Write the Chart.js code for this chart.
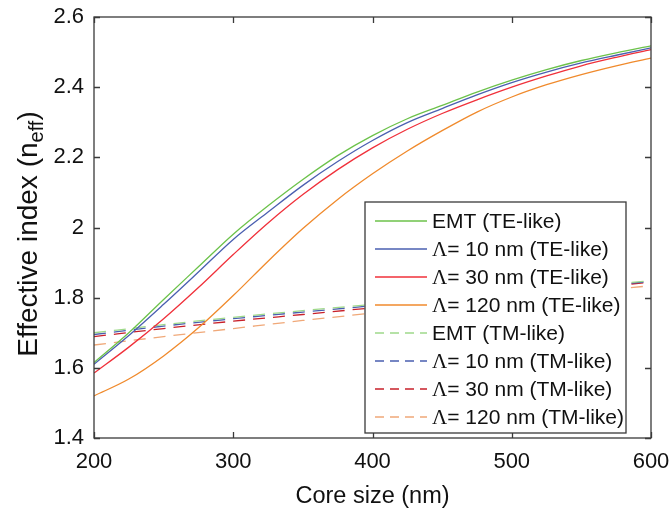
<!DOCTYPE html>
<html>
<head>
<meta charset="utf-8">
<script src="https://cdn.jsdelivr.net/npm/chart.js@4.4.1/dist/chart.umd.min.js"></script>
<style>
  html, body { margin: 0; padding: 0; background: #fff; }
  canvas { display: block; }
</style>
</head>
<body>
<canvas id="chart" width="669" height="514"></canvas>
<script>
// Core size (nm) sample points
const coreTE = [200, 225, 250, 275, 300, 325, 350, 375, 400, 425, 450, 475, 500, 525, 550, 575, 600];
const coreTM = [200, 250, 300, 350, 400, 450, 500, 550, 600];

// TE-like effective index
const emtTE   = [1.615, 1.700, 1.795, 1.888, 1.981, 2.062, 2.137, 2.205, 2.262, 2.310, 2.348, 2.386, 2.420, 2.450, 2.476, 2.498, 2.518];
const l10TE   = [1.610, 1.692, 1.781, 1.873, 1.966, 2.044, 2.120, 2.188, 2.248, 2.299, 2.339, 2.378, 2.413, 2.443, 2.469, 2.491, 2.512];
const l30TE   = [1.585, 1.659, 1.740, 1.829, 1.923, 2.013, 2.094, 2.165, 2.227, 2.280, 2.325, 2.364, 2.400, 2.432, 2.461, 2.485, 2.507];
const l120TE  = [1.520, 1.568, 1.634, 1.714, 1.806, 1.904, 1.997, 2.080, 2.153, 2.218, 2.276, 2.329, 2.372, 2.407, 2.436, 2.461, 2.483];

// TM-like effective index
const emtTM   = [1.700, 1.723, 1.744, 1.763, 1.781, 1.798, 1.815, 1.832, 1.848];
const l10TM   = [1.695, 1.719, 1.740, 1.759, 1.777, 1.795, 1.812, 1.829, 1.846];
const l30TM   = [1.689, 1.712, 1.733, 1.752, 1.771, 1.789, 1.807, 1.826, 1.844];
const l120TM  = [1.665, 1.689, 1.712, 1.735, 1.756, 1.776, 1.796, 1.815, 1.834];

const labels = [
    'EMT (TE-like)', 'Λ= 10 nm (TE-like)', 'Λ= 30 nm (TE-like)', 'Λ= 120 nm (TE-like)',
    'EMT (TM-like)', 'Λ= 10 nm (TM-like)', 'Λ= 30 nm (TM-like)', 'Λ= 120 nm (TM-like)'
];

const FONT = '"Liberation Sans", Arial, sans-serif';
const AXIS = '#3a3a3a';

const toXY = (xs, ys) => xs.map((x, i) => ({ x: x, y: ys[i] }));

function line(label, xs, ys, color, dashed) {
    return {
        label: label,
        data: toXY(xs, ys),
        borderColor: color,
        borderWidth: 1.3,
        borderDash: dashed ? [12, 8] : [],
        pointRadius: 0,
        fill: false,
        cubicInterpolationMode: 'monotone'
    };
}

// no extra room for overflowing tick labels
function fixScale(s, size) {
    if (s.isHorizontal()) s.height = size; else s.width = size;
    s.paddingLeft = s.paddingRight = s.paddingTop = s.paddingBottom = 0;
}

// frame, inward ticks, titles and the legend box
const framePlugin = {
    id: 'frame',
    afterDatasetsDraw(chart) {
        const { ctx, chartArea: a, scales } = chart;
        const xs = scales.x, ys = scales.y;
        const tl = 6;
        ctx.save();
        ctx.strokeStyle = AXIS;
        ctx.lineWidth = 1.3;
        ctx.setLineDash([]);
        ctx.strokeRect(a.left, a.top, a.right - a.left, a.bottom - a.top);

        ctx.beginPath();
        xs.ticks.forEach(t => {
            const px = Math.round(xs.getPixelForValue(t.value)) + 0.5;
            ctx.moveTo(px, a.bottom); ctx.lineTo(px, a.bottom - tl);
            ctx.moveTo(px, a.top); ctx.lineTo(px, a.top + tl);
        });
        ys.ticks.forEach(t => {
            const py = Math.round(ys.getPixelForValue(t.value)) + 0.5;
            ctx.moveTo(a.left, py); ctx.lineTo(a.left + tl, py);
            ctx.moveTo(a.right, py); ctx.lineTo(a.right - tl, py);
        });
        ctx.stroke();

        // x title
        ctx.fillStyle = '#111';
        ctx.font = '23.5px ' + FONT;
        ctx.textAlign = 'center';
        ctx.textBaseline = 'middle';
        ctx.fillText('Core size (nm)', (a.left + a.right) / 2, 497);

        // y title with subscript
        const main = 'Effective index (n';
        const sub = 'eff';
        const close = ')';
        ctx.font = '28px ' + FONT;
        const w1 = ctx.measureText(main).width;
        const w3 = ctx.measureText(close).width;
        ctx.font = '20px ' + FONT;
        const w2 = ctx.measureText(sub).width;
        const total = w1 + w2 + w3;
        ctx.translate(27, 234);
        ctx.rotate(-Math.PI / 2);
        ctx.textAlign = 'left';
        ctx.textBaseline = 'alphabetic';
        const x0 = -total / 2;
        ctx.font = '28px ' + FONT;
        ctx.fillText(main, x0, 10);
        ctx.font = '20px ' + FONT;
        ctx.fillText(sub, x0 + w1, 16);
        ctx.font = '28px ' + FONT;
        ctx.fillText(close, x0 + w1 + w2, 10);
        ctx.setTransform(1, 0, 0, 1, 0, 0);

        // legend
        const lx = a.right - 286, ly = 202, lw = 261, lh = 231;
        ctx.fillStyle = '#fff';
        ctx.fillRect(lx, ly, lw, lh);
        ctx.strokeStyle = AXIS;
        ctx.lineWidth = 1.3;
        ctx.strokeRect(lx, ly, lw, lh);
        chart.data.datasets.forEach((ds, i) => {
            const cy = ly + 19 + i * 28;
            ctx.beginPath();
            ctx.strokeStyle = ds.borderColor;
            ctx.lineWidth = ds.borderWidth;
            ctx.setLineDash(ds.borderDash.length ? [9, 6] : []);
            ctx.moveTo(lx + 10, cy);
            ctx.lineTo(lx + 62, cy);
            ctx.stroke();
            ctx.setLineDash([]);
            ctx.fillStyle = '#111';
            ctx.textBaseline = 'middle';
            ctx.textAlign = 'left';
            let tx = lx + 67;
            let txt = ds.label;
            if (txt.startsWith('Λ')) {
                ctx.font = '21px "Liberation Serif", serif';
                ctx.fillText('Λ', tx, cy + 1);
                tx += ctx.measureText('Λ').width;
                txt = txt.slice(1);
            }
            ctx.font = '21px ' + FONT;
            ctx.fillText(txt, tx, cy + 1);
        });
        ctx.restore();
    }
};

new Chart(document.getElementById('chart'), {
    type: 'line',
    data: {
        datasets: [
            line(labels[0], coreTE, emtTE, '#6cc24a', false),
            line(labels[1], coreTE, l10TE, '#4a5fb0', false),
            line(labels[2], coreTE, l30TE, '#f0303a', false),
            line(labels[3], coreTE, l120TE, '#f08a2c', false),
            line(labels[4], coreTM, emtTM, '#9fd98a', true),
            line(labels[5], coreTM, l10TM, '#4a5fb0', true),
            line(labels[6], coreTM, l30TM, '#c8202a', true),
            line(labels[7], coreTM, l120TM, '#f0a878', true)
        ]
    },
    options: {
        responsive: false,
        animation: false,
        layout: { padding: { top: 17, right: 18, left: 0, bottom: 0 } },
        plugins: {
            legend: { display: false },
            tooltip: { enabled: false }
        },
        scales: {
            x: {
                type: 'linear',
                min: 200,
                max: 600,
                ticks: {
                    stepSize: 100,
                    color: '#111',
                    font: { family: FONT, size: 22 },
                    padding: 11,
                    maxRotation: 0
                },
                grid: { display: false, drawTicks: false },
                border: { display: false },
                afterFit: (s) => fixScale(s, 76)
            },
            y: {
                min: 1.4,
                max: 2.6,
                ticks: {
                    stepSize: 0.2,
                    color: '#111',
                    font: { family: FONT, size: 22 },
                    padding: 10,
                    callback: (v) => String(Number(v.toFixed(1)))
                },
                grid: { display: false, drawTicks: false },
                border: { display: false },
                afterFit: (s) => fixScale(s, 94)
            }
        }
    },
    plugins: [framePlugin]
});
</script>
</body>
</html>
